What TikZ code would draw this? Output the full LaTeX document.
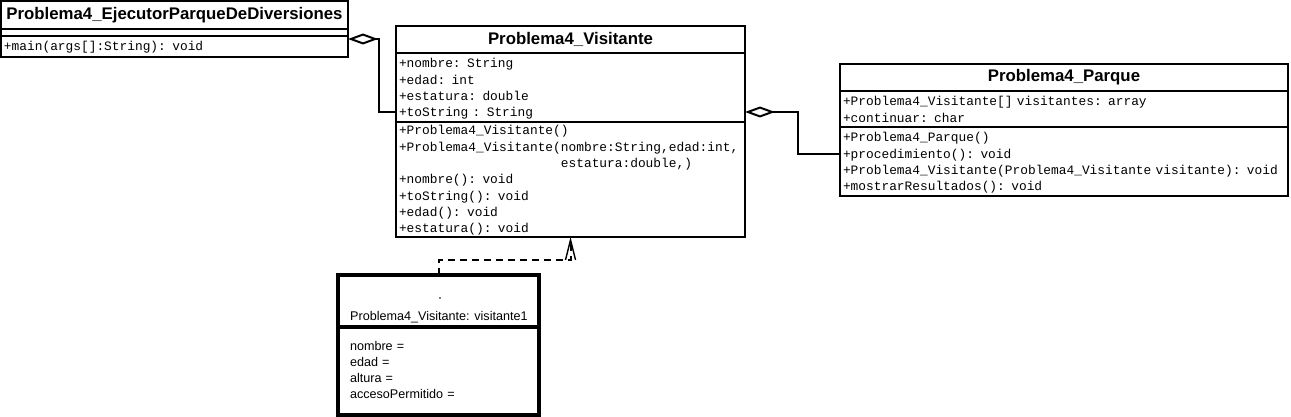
\documentclass[tikz,border=0pt]{standalone}
\usepackage{fontspec}
\setmainfont{Liberation Sans}
\setmonofont{Liberation Mono}
\usetikzlibrary{positioning,arrows.meta}

\newcommand\umlhead{\fontsize{16.8}{20}\selectfont\bfseries}
\newcommand\umlcode{\ttfamily\fontsize{12.85}{16.3}\selectfont\spaceskip=7.71pt\relax}
\newcommand\umlobj{\fontsize{12.6}{16.3}\selectfont}

\tikzset{
  classtitle/.style={draw, line width=2pt, outer sep=0pt, inner sep=0pt, minimum width=#1, minimum height=27pt, font=\umlhead},
  classpart/.style={draw, line width=2pt, outer sep=0pt, inner xsep=3pt, inner ysep=0pt, align=left, font=\umlcode},
  objpart/.style={draw, line width=3.5pt, outer sep=0pt, inner ysep=0pt, minimum width=201pt, font=\umlobj},
  aggr/.style={line width=2pt, -{Diamond[open, length=30pt, width=11pt]}},
  dep/.style={line width=2pt, dash pattern=on 7pt off 5pt, -{Straight Barb[length=20pt, width=10pt, line width=1.4pt]}},
}

\begin{document}
\begin{tikzpicture}[x=1pt,y=-1pt]
  \useasboundingbox (0,0) rectangle (1291,417);

  \node[classtitle=347pt, minimum height=28pt, anchor=north west] (ejT) at (1,1) {Problema4\_EjecutorParqueDeDiversiones};
  \node[draw, line width=2pt, outer sep=0pt, inner sep=0pt, minimum width=347pt, minimum height=7pt, below=0pt of ejT] (ejA) {};
  \node[classpart, text width=341pt, text height=15pt, text depth=6pt, below=0pt of ejA] (ejM) {+main(args[]:String): void};

  \node[classtitle=349pt, anchor=north west] (visT) at (396,26) {Problema4\_Visitante};
  \node[classpart, text width=343pt, text height=15pt, text depth=54pt, below=0pt of visT] (visA)
    {+nombre: String\\+edad: int\\+estatura: double\\+toString : String};
  \node[classpart, text width=343pt, text height=13pt, text depth=102pt, below=0pt of visA] (visM)
    {+Problema4\_Visitante()\\
     +Problema4\_Visitante(nombre:String,edad:int,\\
     \phantom{+Problema4\_Visitante(}estatura:double,)\\
     +nombre(): void\\+toString(): void\\+edad(): void\\+estatura(): void};

  \node[classtitle=448pt, anchor=north west] (parT) at (840,64) {Problema4\_Parque};
  \node[classpart, text width=442pt, text height=15pt, text depth=21pt, below=0pt of parT] (parA)
    {+Problema4\_Visitante[] visitantes: array\\+continuar: char};
  \node[classpart, text width=442pt, text height=15pt, text depth=54pt, below=0pt of parA] (parM)
    {+Problema4\_Parque()\\+procedimiento(): void\\
     +Problema4\_Visitante(Problema4\_Visitante visitante): void\\+mostrarResultados(): void};

  \node[objpart, minimum height=52pt, anchor=north west] (objT) at (338,275) {};
  \node[objpart, text width=177pt, inner xsep=12pt, text height=23pt, text depth=65pt, align=left, below=0pt of objT] (objA)
    {nombre =\\edad =\\altura =\\accesoPermitido =};
  \node[anchor=base west, font=\umlobj, inner sep=0pt] (objN) at ([shift={(12pt,7pt)}]objT.south west) {Problema4\_Visitante: visitante1};
  \fill ([shift={(1.5pt,-23pt)}]objT.north) circle (0.8pt);

  \draw[aggr] ([yshift=10pt]visA.south west) -- ++(-17,0) |- ([yshift=-3pt]ejM.north east);
  \draw[aggr] ([yshift=-27pt]parM.north west) -- ++(-42,0) |- ([yshift=10pt]visA.south east);
  \draw[dep] (objT.north) -- ++(0,-15) -| (visM.south);
\end{tikzpicture}
\end{document}
